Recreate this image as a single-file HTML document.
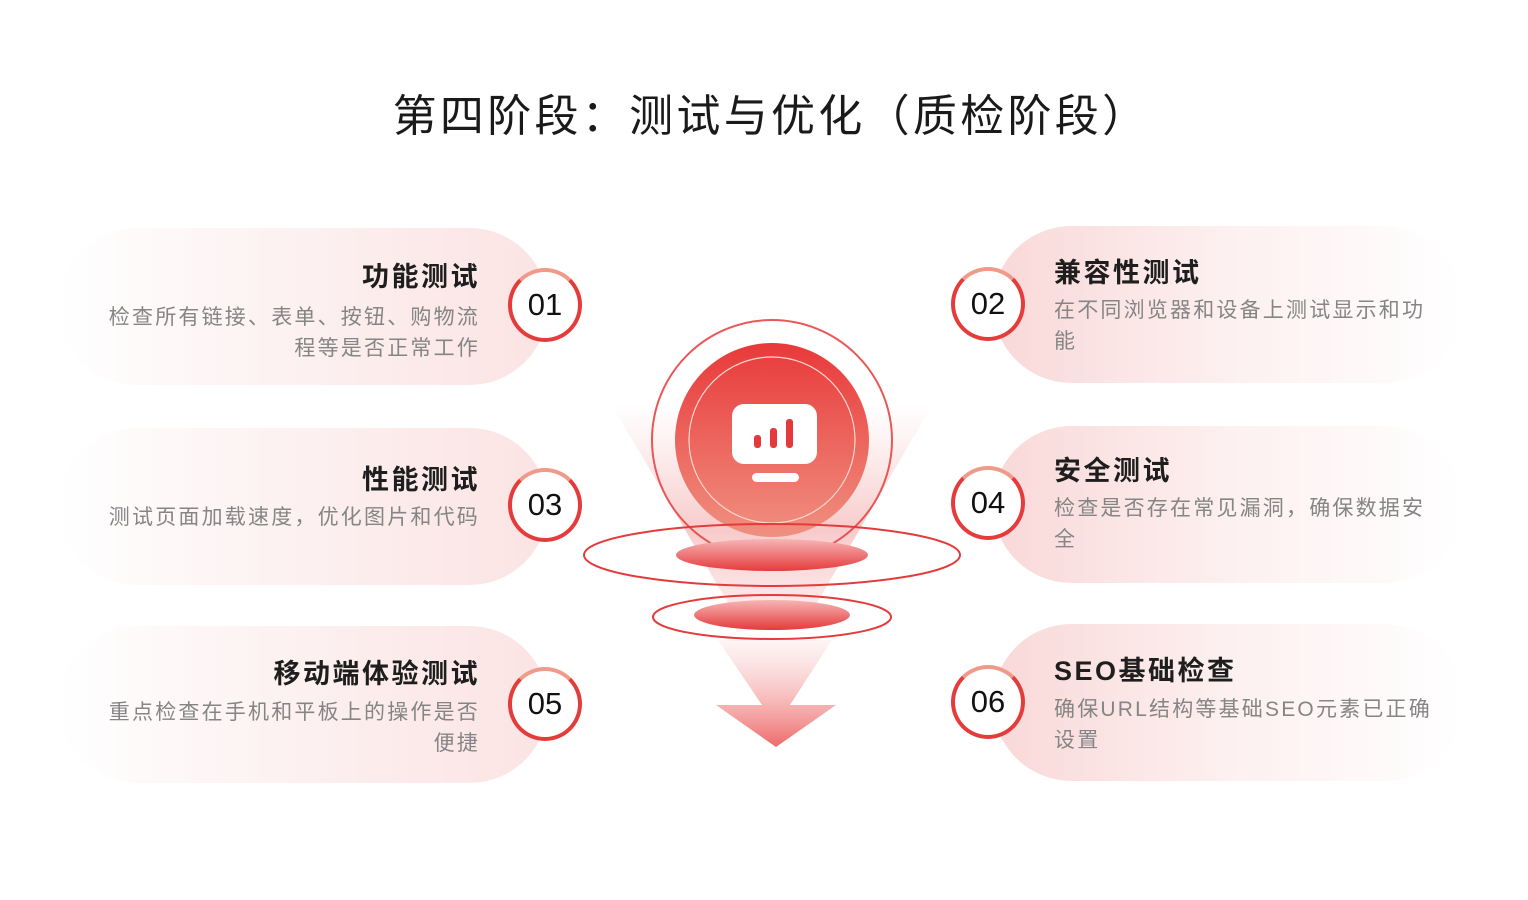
<!DOCTYPE html>
<html><head><meta charset="utf-8"><style>
*{margin:0;padding:0;box-sizing:border-box}
body{width:1528px;height:900px;background:#fff;position:relative;overflow:hidden;font-family:"Liberation Sans","Noto Sans CJK SC",sans-serif}
.t{position:absolute;white-space:nowrap}
.title{left:14px;width:1514px;top:80px;text-align:center;font-size:44px;color:#1a1a1a;letter-spacing:3.3px}
.pl{position:absolute;height:157px;border-radius:80px}
.L{left:58px;width:490px;background:linear-gradient(90deg,rgba(255,255,255,0) 0%,#fdf3f3 40%,#fbe3e3 100%)}
.R{left:993px;width:470px;background:linear-gradient(90deg,#f9d8d8 0%,#fdf0f0 50%,rgba(255,255,255,0) 100%)}
.h{font-size:27px;font-weight:bold;color:#1e1e1e;letter-spacing:2.5px}
.d{font-size:21px;color:#858585;line-height:31px;letter-spacing:2.2px}
.lt{right:1048px;text-align:right}
.rt{left:1054px}
.c{position:absolute;width:74px;height:74px;border-radius:50%;background:#fff;border:4px solid #e53b3b;border-top-color:#f09a8a;font-size:31px;color:#111;text-align:center;line-height:66px}
</style></head><body>
<div class="t title">第四阶段：测试与优化（质检阶段）</div>

<div class="pl L" style="top:228px"></div>
<div class="pl L" style="top:428px"></div>
<div class="pl L" style="top:626px"></div>
<div class="pl R" style="top:226px"></div>
<div class="pl R" style="top:426px"></div>
<div class="pl R" style="top:624px"></div>

<div class="t h lt" style="top:255px">功能测试</div>
<div class="t d lt" style="top:302px">检查所有链接、表单、按钮、购物流<br>程等是否正常工作</div>
<div class="t h lt" style="top:458px">性能测试</div>
<div class="t d lt" style="top:502px">测试页面加载速度，优化图片和代码</div>
<div class="t h lt" style="top:652px">移动端体验测试</div>
<div class="t d lt" style="top:697px">重点检查在手机和平板上的操作是否<br>便捷</div>

<div class="t h rt" style="top:251px">兼容性测试</div>
<div class="t d rt" style="top:295px">在不同浏览器和设备上测试显示和功<br>能</div>
<div class="t h rt" style="top:449px">安全测试</div>
<div class="t d rt" style="top:493px">检查是否存在常见漏洞，确保数据安<br>全</div>
<div class="t h rt" style="top:649px">SEO基础检查</div>
<div class="t d rt" style="top:694px">确保URL结构等基础SEO元素已正确<br>设置</div>

<div class="c" style="left:508px;top:268px">01</div>
<div class="c" style="left:508px;top:468px">03</div>
<div class="c" style="left:508px;top:667px">05</div>
<div class="c" style="left:951px;top:267px">02</div>
<div class="c" style="left:951px;top:466px">04</div>
<div class="c" style="left:951px;top:665px">06</div>

<svg width="1528" height="900" style="position:absolute;left:0;top:0">
<defs>
<linearGradient id="cone" x1="0" y1="0" x2="0" y2="1"><stop offset="0" stop-color="#f3b0b0" stop-opacity="0"/><stop offset="0.6" stop-color="#f2a0a0" stop-opacity="0.55"/><stop offset="1" stop-color="#f8d0d0" stop-opacity="0.4"/></linearGradient>
<linearGradient id="ball" x1="0" y1="0" x2="0" y2="1"><stop offset="0" stop-color="#e8393a"/><stop offset="1" stop-color="#f09080"/></linearGradient>
<linearGradient id="disc" x1="0" y1="0" x2="0" y2="1"><stop offset="0" stop-color="#f7b5b5"/><stop offset="1" stop-color="#e53a3c"/></linearGradient>
<linearGradient id="arr" x1="0" y1="0" x2="0" y2="1"><stop offset="0" stop-color="#fbdada" stop-opacity="0.3"/><stop offset="1" stop-color="#ee6a6a"/></linearGradient>
</defs>
<polygon points="612,405 932,405 810,615 735,615" fill="url(#cone)"/>
<circle cx="772" cy="440" r="120" fill="none" stroke="#e84545" stroke-width="2" opacity="0.9"/>
<circle cx="772" cy="440" r="97" fill="url(#ball)"/>
<circle cx="772" cy="440" r="83" fill="none" stroke="#ffd6cf" stroke-width="1.2"/>
<rect x="732" y="404" width="85" height="60" rx="12" fill="#fff"/>
<rect x="754" y="435" width="7" height="13" rx="3" fill="#e53a3c"/>
<rect x="770" y="428" width="7" height="20" rx="3" fill="#e53a3c"/>
<rect x="786" y="419" width="7" height="29" rx="3" fill="#e53a3c"/>
<rect x="752" y="473" width="47" height="9" rx="4.5" fill="#fff"/>
<ellipse cx="772" cy="555" rx="188" ry="31" fill="none" stroke="#e53a3c" stroke-width="2"/>
<ellipse cx="772" cy="555" rx="96" ry="16" fill="url(#disc)"/>
<ellipse cx="772" cy="617" rx="119" ry="22" fill="none" stroke="#e53a3c" stroke-width="2"/>
<ellipse cx="772" cy="615" rx="78" ry="15" fill="url(#disc)"/>
<polygon points="718,640 832,640 790,705 836,705 776,747 716,705 762,705" fill="url(#arr)"/>
</svg>
</body></html>
